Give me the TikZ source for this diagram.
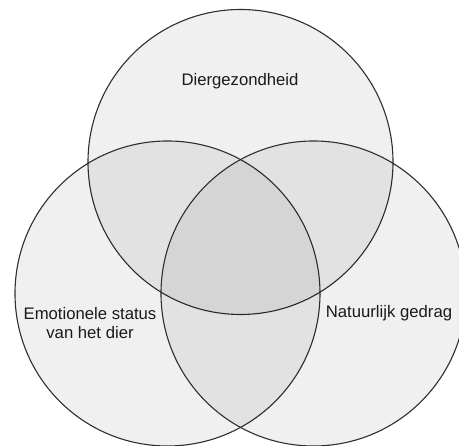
\documentclass[tikz,border=0pt]{standalone}
\usepackage{fontspec}
\setmainfont{Liberation Sans}
\usetikzlibrary{positioning}
\definecolor{rim}{HTML}{2E2E2E}
\definecolor{ink}{HTML}{1A1A1A}

\tikzset{
  venn/.style={draw=rim, line width=1.1pt, fill=black, fill opacity=0.058},
  lbl/.style={text=ink, font=\fontsize{16.7}{19.5}\selectfont, align=center, inner sep=0pt}
}

\begin{document}
\begin{tikzpicture}[x=1pt,y=1pt]
\useasboundingbox (0,0) rectangle (459,446);
\clip (0,0) rectangle (459,446);
% the three sets
\coordinate (gezond) at (240.5,284);
\coordinate (emotie) at (167.5,152.5);
\coordinate (gedrag) at (313.5,152.5);
\draw[venn] (gezond) circle[radius=152.5pt];
\draw[venn] (emotie) circle[radius=152.5pt];
\draw[venn] (gedrag) circle[radius=152.5pt];
% labels
\node[lbl] (gezondlbl) at (240,365) {Diergezondheid};
\node[lbl] (emotielbl) at (90,123) {Emotionele status\\van het dier};
\node[lbl] (gedraglbl) at (389,133) {Natuurlijk gedrag};
\end{tikzpicture}
\end{document}
